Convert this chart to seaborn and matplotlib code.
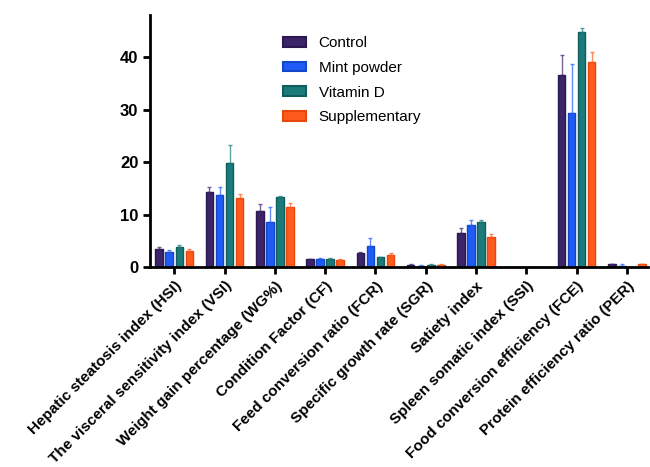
import matplotlib
matplotlib.use("Agg")
import matplotlib.pyplot as plt
import numpy as np
import pandas as pd
import seaborn as sns

categories = ["Hepatic steatosis index (HSI)", "The visceral sensitivity index (VSI)",
              "Weight gain percentage (WG%)", "Condition Factor (CF)",
              "Feed conversion ratio (FCR)", "Specific growth rate (SGR)",
              "Satiety index", "Spleen somatic index (SSI)",
              "Food conversion efficiency (FCE)", "Protein efficiency ratio (PER)"]
groups = ["Control", "Mint powder", "Vitamin D", "Supplementary"]

control = [3.5, 14.3, 10.7, 1.5, 2.6, 0.4, 6.5, 0.05, 36.5, 0.5]
mint = [2.9, 13.7, 8.6, 1.6, 4.0, 0.3, 8.0, 0.05, 29.4, 0.3]
vitd = [3.9, 19.9, 13.3, 1.6, 1.9, 0.4, 8.6, 0.05, 44.7, 0.05]
supp = [3.1, 13.1, 11.5, 1.4, 2.3, 0.4, 5.8, 0.05, 39.1, 0.5]

control_err = [0.4, 1.0, 1.4, 0.1, 0.3, 0.1, 1.0, 0.0, 3.9, 0.1]
mint_err = [0.4, 1.5, 2.9, 0.1, 1.5, 0.1, 0.9, 0.0, 9.3, 0.2]
vitd_err = [0.4, 3.3, 0.2, 0.1, 0.1, 0.1, 0.3, 0.0, 0.8, 0.0]
supp_err = [0.4, 0.8, 0.7, 0.1, 0.3, 0.1, 0.5, 0.0, 1.8, 0.1]

fills = ["#3b2468", "#1f5cf5", "#1b7b7b", "#ff5b1c"]
edges = ["#2a1850", "#1447c8", "#125c5c", "#e8470c"]

df = pd.DataFrame({
    "cat": categories * 4,
    "group": np.repeat(groups, len(categories)),
    "value": control + mint + vitd + supp,
})
errs = control_err + mint_err + vitd_err + supp_err

plt.rcParams["font.family"] = ["Liberation Sans", "DejaVu Sans"]
fig, ax = plt.subplots(figsize=(6.5, 4.67), dpi=100)
fig.subplots_adjust(left=0.231, right=0.997, top=0.968, bottom=0.428)

sns.barplot(data=df, x="cat", y="value", hue="group", palette=fills,
            saturation=1, errorbar=None, width=0.8, gap=0.25, ax=ax, linewidth=1.0)

bars = ax.patches[:len(df)]
for i, b in enumerate(bars):
    g = i // len(categories)
    b.set_edgecolor(edges[g])
    x = b.get_x() + b.get_width() / 2
    h = b.get_height()
    e = errs[i]
    if e > 0:
        ax.errorbar(x, h, yerr=[[0], [e]], fmt="none", ecolor=fills[g],
                    alpha=0.7, elinewidth=1.0, capsize=1.5, capthick=1.0)

ax.set_ylim(0, 48)
ax.set_xlim(-0.48, 9.42)
ax.set_yticks([0, 10, 20, 30, 40])
ax.set_xlabel("")
ax.set_ylabel("")
sns.despine(ax=ax)
for s in ["left", "bottom"]:
    ax.spines[s].set_linewidth(2)
ax.tick_params(axis="both", width=2, length=5, labelsize=12)
ax.set_xticks(range(len(categories)))
ax.set_xticklabels(categories, rotation=45, ha="right", rotation_mode="anchor",
                   fontsize=11, fontweight="bold")
for t in ax.get_yticklabels():
    t.set_fontweight("bold")

handles, labels = ax.get_legend_handles_labels()
for h, c in zip(handles, edges):
    h.set_edgecolor(c)
    h.set_linewidth(1.5)
ax.legend(handles, labels, loc="upper left", bbox_to_anchor=(0.24, 0.97),
          frameon=False, fontsize=11, handlelength=1.5, handleheight=0.6,
          labelspacing=0.7, handletextpad=0.8)

fig.savefig("out.png", dpi=100)
